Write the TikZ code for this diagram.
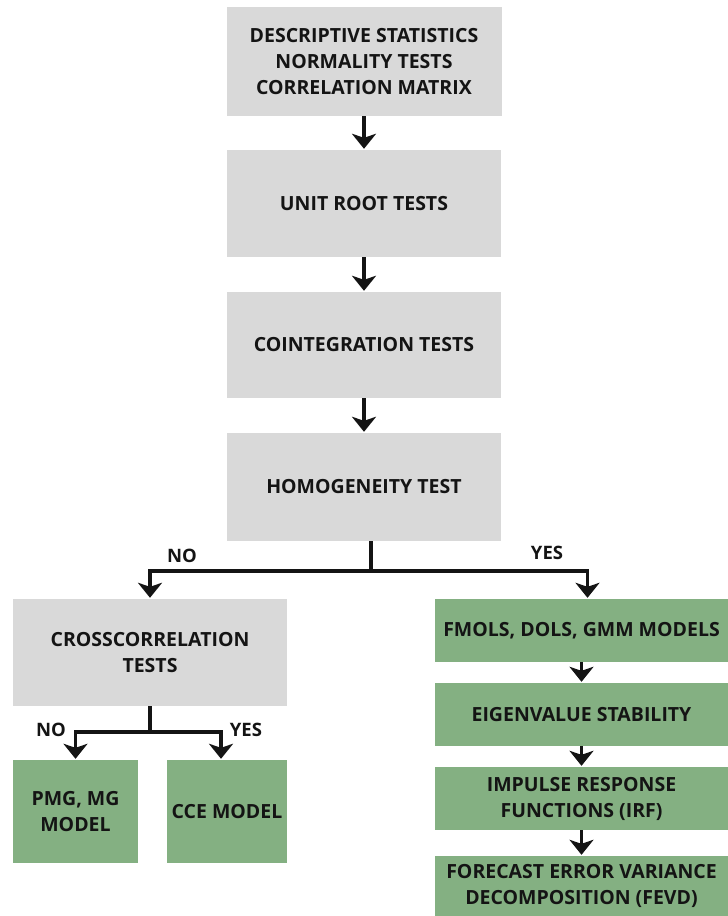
\documentclass[tikz,border=0pt]{standalone}
\usepackage{fontspec}
\setmainfont{Open Sans}
\usetikzlibrary{arrows.meta}
\definecolor{boxgray}{RGB}{217,217,217}
\definecolor{boxgreen}{RGB}{132,176,130}
\definecolor{ink}{RGB}{20,20,20}
\begin{document}
\begin{tikzpicture}[x=1pt,y=-1pt,
  box/.style={draw=none, inner sep=0pt, align=center, text=ink,
    font=\fontsize{19.5}{26}\selectfont\bfseries},
  graybox/.style={box, fill=boxgray},
  greenbox/.style={box, fill=boxgreen},
  lbl/.style={text=ink, inner sep=0pt, font=\fontsize{18.5}{20}\selectfont\bfseries},
  link/.style={draw=ink, line width=3.2pt},
  flow/.style={link,
    -{Stealth[length=15pt,width=24pt,inset=4pt]}, shorten >=1pt}
]
\useasboundingbox (0,0) rectangle (728,916);

% main column
\node[graybox, minimum width=275pt, minimum height=109pt] (b1) at (364,61.5)
  {DESCRIPTIVE STATISTICS\\NORMALITY TESTS\\CORRELATION MATRIX};
\node[graybox, minimum width=274pt, minimum height=107pt] (b2) at (364,203.5)
  {UNIT ROOT TESTS};
\node[graybox, minimum width=274pt, minimum height=106pt] (b3) at (364,345)
  {COINTEGRATION TESTS};
\node[graybox, minimum width=274pt, minimum height=108pt] (b4) at (364,487)
  {HOMOGENEITY TEST};

% left branch
\node[graybox, minimum width=274pt, minimum height=107pt] (cc) at (150,652.5)
  {CROSSCORRELATION\\TESTS};
\node[greenbox, minimum width=125pt, minimum height=103pt] (pmg) at (75.5,811.5)
  {PMG, MG\\MODEL};
\node[greenbox, minimum width=120pt, minimum height=103pt] (cce) at (227,811.5)
  {CCE MODEL};

% right branch
\node[greenbox, minimum width=293pt, minimum height=63pt] (fm) at (581.5,630.5)
  {FMOLS, DOLS, GMM MODELS};
\node[greenbox, minimum width=293pt, minimum height=63pt] (eig) at (581.5,714.5)
  {EIGENVALUE STABILITY};
\node[greenbox, minimum width=293pt, minimum height=63pt] (irf) at (581.5,798.5)
  {IMPULSE RESPONSE\\FUNCTIONS (IRF)};
\node[greenbox, minimum width=293pt, minimum height=60pt] (fevd) at (581.5,886)
  {FORECAST ERROR VARIANCE\\DECOMPOSITION (FEVD)};

% straight flow
\draw[flow] (b1) -- (b2);
\draw[flow] (b2) -- (b3);
\draw[flow] (b3) -- (b4);
\draw[flow] (fm) -- (eig);
\draw[flow] (eig) -- (irf);
\draw[flow] (irf) -- (fevd);

% split after homogeneity
\coordinate (j1) at (371,571);
\draw[link] (j1 |- b4.south) -- (j1);
\draw[flow] (j1) -| (cc.north);
\draw[flow] (j1) -| ([xshift=6pt]fm.north);
\node[lbl] (no1) at (182,556) {NO};
\node[lbl] (yes1) at (547,553) {YES};

% split after cross-correlation
\coordinate (j2) at (150,732);
\draw[link] (cc.south) -- (j2);
\draw[flow] (j2) -| (pmg.north);
\draw[flow] (j2) -| ([xshift=-6pt]cce.north);
\node[lbl] (no2) at (51,730) {NO};
\node[lbl] (yes2) at (246,730) {YES};
\end{tikzpicture}
\end{document}
